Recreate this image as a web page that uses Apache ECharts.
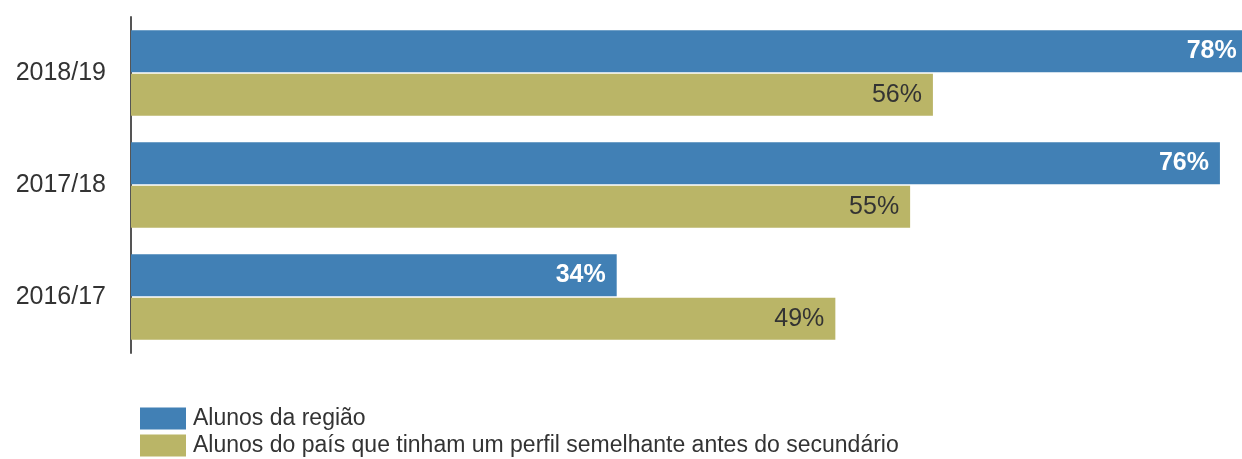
<!DOCTYPE html>
<html>
<head>
<meta charset="utf-8">
<script src="https://cdn.jsdelivr.net/npm/echarts@6/dist/echarts.min.js"></script>
<style>
  html, body { margin: 0; padding: 0; background: #fff; }
  #chart { width: 1242px; height: 459px; }
</style>
</head>
<body>
<div id="chart"></div>
<script>
// categories, bottom to top as echarts draws a category yAxis
var years = ["2016/17", "2017/18", "2018/19"];
var seriesNames = [
  "Alunos da região",
  "Alunos do país que tinham um perfil semelhante antes do secundário"
];
// bar lengths (labels show the rounded value)
var regiao = [34.1, 76.45, 78.4];
var pais = [49.45, 54.7, 56.3];

var blue = "#4180B5";
var olive = "#BAB567";
var font = "'Liberation Sans', Arial, sans-serif";

var chart = echarts.init(document.getElementById("chart"));

function legendAt(top, name) {
  return {
    left: 135,
    top: top,
    icon: "rect",
    itemWidth: 46,
    itemHeight: 22,
    textStyle: { fontFamily: font, fontSize: 23, color: "#333", padding: [0, 0, 0, 2] },
    data: [name]
  };
}

chart.setOption({
  animation: false,
  legend: [legendAt(402, seriesNames[0]), legendAt(429, seriesNames[1])],
  grid: {
    left: 131,
    right: 0,
    top: 17,
    bottom: 106,
    containLabel: false
  },
  xAxis: {
    type: "value",
    min: 0,
    max: 78,
    show: false
  },
  yAxis: {
    type: "category",
    data: years,
    axisLine: { show: true, lineStyle: { color: "#555", width: 2 } },
    axisTick: { show: false },
    axisLabel: { fontFamily: font, fontSize: 25, color: "#333", margin: 25 }
  },
  series: [
    {
      name: seriesNames[0],
      type: "bar",
      barWidth: 42,
      barGap: "3%",
      clip: false,
      itemStyle: { color: blue },
      data: regiao,
      label: {
        show: true,
        position: "insideRight",
        distance: 11,
        fontFamily: font,
        fontSize: 25,
        fontWeight: "bold",
        color: "#fff",
        formatter: function (p) { return Math.round(p.value) + "%"; }
      }
    },
    {
      name: seriesNames[1],
      type: "bar",
      barWidth: 42,
      barGap: "3%",
      clip: false,
      itemStyle: { color: olive },
      data: pais,
      label: {
        show: true,
        position: "insideRight",
        distance: 11,
        fontFamily: font,
        fontSize: 25,
        color: "#333",
        formatter: function (p) { return Math.round(p.value) + "%"; }
      }
    }
  ]
});
</script>
</body>
</html>
